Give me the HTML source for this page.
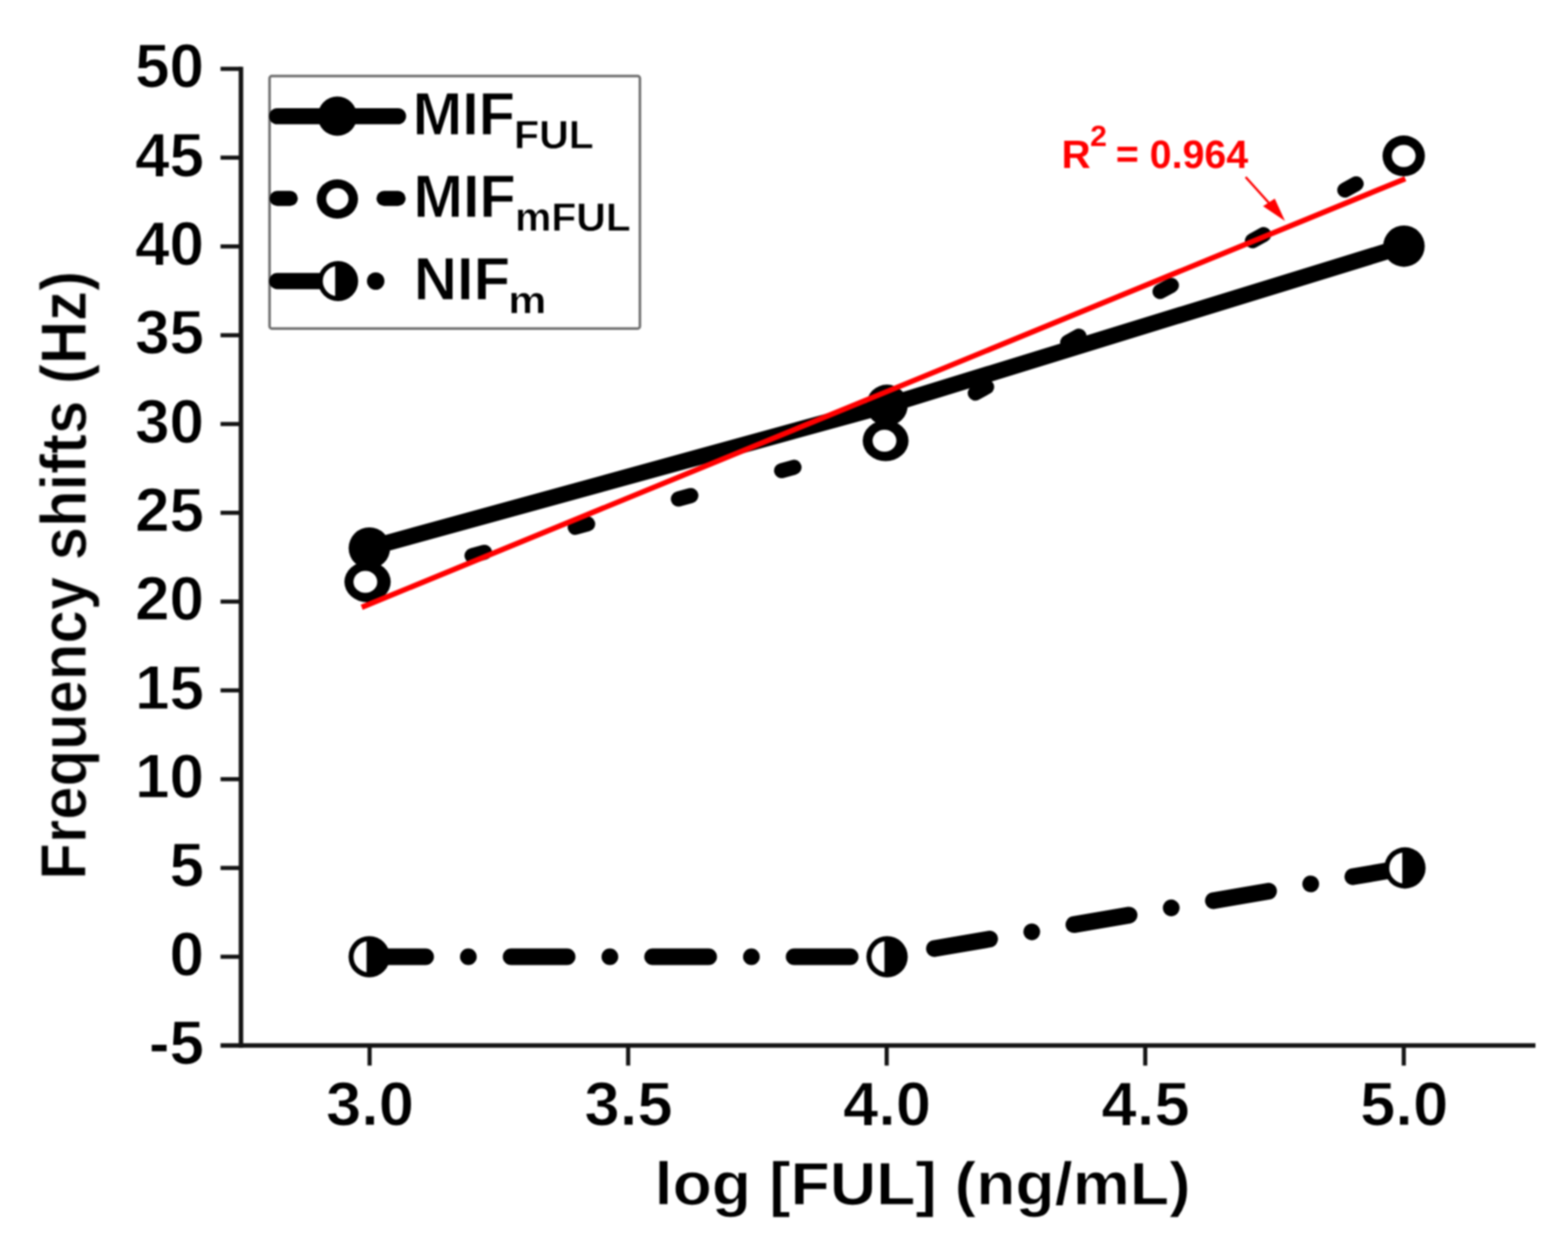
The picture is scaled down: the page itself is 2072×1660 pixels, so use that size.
<!DOCTYPE html>
<html lang="en">
<head>
<meta charset="utf-8">
<title>Frequency shifts vs log [FUL]</title>
<style>
html,body{margin:0;padding:0;background:#fff;}
body{width:2072px;height:1660px;overflow:hidden;font-family:"Liberation Sans", sans-serif;}
svg{display:block;}
svg text{stroke:#fff;stroke-width:0.013em;paint-order:fill stroke;stroke-linejoin:round;}
svg #r2 text{stroke:none;}
</style>
</head>
<body>
<svg role="img" aria-label="Frequency shifts versus log FUL concentration" width="2072" height="1660" viewBox="0 0 2072 1660" font-family='"Liberation Sans", sans-serif' font-weight="bold">
<rect width="2072" height="1660" fill="#fff"/>
<defs><filter id="soft" x="0" y="0" width="2072" height="1660" filterUnits="userSpaceOnUse" color-interpolation-filters="sRGB"><feGaussianBlur stdDeviation="1.05"/></filter></defs>
<g id="chart" filter="url(#soft)">
<g id="axes" stroke="#141414" fill="none" stroke-linecap="butt">
<line x1="318.4" y1="88.25" x2="318.4" y2="1384.85" stroke-width="6.0"/>
<line x1="291.40" y1="1381.85" x2="2029" y2="1381.85" stroke-width="6.0"/>
<line x1="291.40" y1="1264.50" x2="318.40" y2="1264.50" stroke-width="5.5"/>
<line x1="291.40" y1="1147.15" x2="318.40" y2="1147.15" stroke-width="5.5"/>
<line x1="291.40" y1="1029.80" x2="318.40" y2="1029.80" stroke-width="5.5"/>
<line x1="291.40" y1="912.45" x2="318.40" y2="912.45" stroke-width="5.5"/>
<line x1="291.40" y1="795.10" x2="318.40" y2="795.10" stroke-width="5.5"/>
<line x1="291.40" y1="677.75" x2="318.40" y2="677.75" stroke-width="5.5"/>
<line x1="291.40" y1="560.40" x2="318.40" y2="560.40" stroke-width="5.5"/>
<line x1="291.40" y1="443.05" x2="318.40" y2="443.05" stroke-width="5.5"/>
<line x1="291.40" y1="325.70" x2="318.40" y2="325.70" stroke-width="5.5"/>
<line x1="291.40" y1="208.35" x2="318.40" y2="208.35" stroke-width="5.5"/>
<line x1="291.40" y1="91.00" x2="318.40" y2="91.00" stroke-width="5.5"/>
<line x1="488.40" y1="1381.85" x2="488.40" y2="1408.35" stroke-width="5.5"/>
<line x1="830.05" y1="1381.85" x2="830.05" y2="1408.35" stroke-width="5.5"/>
<line x1="1171.70" y1="1381.85" x2="1171.70" y2="1408.35" stroke-width="5.5"/>
<line x1="1513.35" y1="1381.85" x2="1513.35" y2="1408.35" stroke-width="5.5"/>
<line x1="1855.00" y1="1381.85" x2="1855.00" y2="1408.35" stroke-width="5.5"/>
</g>
<g id="ticklabels" fill="#000">
<text transform="translate(269.6 1406.05) scale(1.012 1)" font-size="81.0" text-anchor="end">-5</text>
<text transform="translate(269.6 1288.70) scale(1.012 1)" font-size="81.0" text-anchor="end">0</text>
<text transform="translate(269.6 1171.35) scale(1.012 1)" font-size="81.0" text-anchor="end">5</text>
<text transform="translate(269.6 1054.00) scale(1.012 1)" font-size="81.0" text-anchor="end">10</text>
<text transform="translate(269.6 936.65) scale(1.012 1)" font-size="81.0" text-anchor="end">15</text>
<text transform="translate(269.6 819.30) scale(1.012 1)" font-size="81.0" text-anchor="end">20</text>
<text transform="translate(269.6 701.95) scale(1.012 1)" font-size="81.0" text-anchor="end">25</text>
<text transform="translate(269.6 584.60) scale(1.012 1)" font-size="81.0" text-anchor="end">30</text>
<text transform="translate(269.6 467.25) scale(1.012 1)" font-size="81.0" text-anchor="end">35</text>
<text transform="translate(269.6 349.90) scale(1.012 1)" font-size="81.0" text-anchor="end">40</text>
<text transform="translate(269.6 232.55) scale(1.012 1)" font-size="81.0" text-anchor="end">45</text>
<text transform="translate(269.6 115.20) scale(1.012 1)" font-size="81.0" text-anchor="end">50</text>
<text transform="translate(488.90 1486.8) scale(1.035 1)" font-size="81.0" text-anchor="middle">3.0</text>
<text transform="translate(830.55 1486.8) scale(1.035 1)" font-size="81.0" text-anchor="middle">3.5</text>
<text transform="translate(1172.20 1486.8) scale(1.035 1)" font-size="81.0" text-anchor="middle">4.0</text>
<text transform="translate(1513.85 1486.8) scale(1.035 1)" font-size="81.0" text-anchor="middle">4.5</text>
<text transform="translate(1855.50 1486.8) scale(1.035 1)" font-size="81.0" text-anchor="middle">5.0</text>
</g>
<g id="titles" fill="#000">
<text transform="translate(865.05 1591.60) scale(1.0694 1)" font-size="79.50" fill="#000" >log [FUL] (ng/mL)</text>
<text transform="translate(113.5 1162.64) rotate(-90) scale(0.9255 1)" font-size="85.50">Frequency shifts (Hz)</text>
</g>
<g id="series" fill="none" stroke="#000" stroke-linecap="round" stroke-linejoin="round">
<line x1="488.40" y1="771.63" x2="1171.70" y2="583.87" stroke-width="20" stroke-dasharray="17 124.4" stroke-dashoffset="1"/>
<line x1="1171.70" y1="583.87" x2="1855.00" y2="208.35" stroke-width="20" stroke-dasharray="17 122.3" stroke-dashoffset="5.7"/>
<polyline points="488.10,724.00 1172.10,535.70 1855.20,325.30" stroke-width="21.3"/>
<line x1="488.40" y1="1264.50" x2="1171.70" y2="1264.50" stroke-width="22.1" stroke-dasharray="74 56.5 0.01 56.5"/>
<line x1="1171.70" y1="1264.50" x2="1855.00" y2="1147.15" stroke-width="22.1" stroke-dasharray="74 56.5 0.01 56.5" stroke-dashoffset="-64"/>
</g>
<g id="symbols">
<ellipse cx="485.70" cy="769.00" rx="30.6" ry="27.0" fill="#000"/><ellipse cx="482.80" cy="769.00" rx="15.7" ry="14.6" fill="#fff"/>
<ellipse cx="1170.30" cy="582.50" rx="30.3" ry="27.0" fill="#000"/><ellipse cx="1168.80" cy="582.50" rx="15.7" ry="14.6" fill="#fff"/>
<ellipse cx="1854.90" cy="206.10" rx="28.0" ry="27.0" fill="#000"/><ellipse cx="1854.90" cy="206.10" rx="15.7" ry="14.6" fill="#fff"/>
<circle cx="488.10" cy="724.40" r="27.4" fill="#000"/>
<circle cx="1172.10" cy="535.70" r="27.4" fill="#000"/>
<circle cx="1855.20" cy="325.30" r="27.4" fill="#000"/>
<circle cx="487.90" cy="1264.50" r="27.3" fill="#000"/><path d="M484.40 1244.10 A20.70 20.70 0 0 0 484.40 1284.90 Z" fill="#fff"/>
<circle cx="1172.20" cy="1264.50" r="27.3" fill="#000"/><path d="M1168.70 1244.10 A20.70 20.70 0 0 0 1168.70 1284.90 Z" fill="#fff"/>
<circle cx="1856.50" cy="1147.15" r="27.3" fill="#000"/><path d="M1853.00 1126.75 A20.70 20.70 0 0 0 1853.00 1167.55 Z" fill="#fff"/>
</g>
<line x1="478" y1="802.6" x2="1857" y2="236.2" stroke="#ff0000" stroke-width="7.1"/>
<g id="r2" fill="#ff0000">
<text transform="translate(1402.70 222.00) scale(1.0246 1)" font-size="52.00" fill="#ff0000" >R</text>
<text transform="translate(1440.40 193.40) scale(1.0127 1)" font-size="39.50" fill="#ff0000" >2</text>
<text transform="translate(1474.59 222.00) scale(0.9990 1)" font-size="52.00" fill="#ff0000" >= 0.964</text>
<line x1="1646" y1="234" x2="1682" y2="274" stroke="#ff0000" stroke-width="3"/>
<path d="M1698 292 L1669 272.5 L1684.5 262.5 Z"/>
</g>
<g id="legend">
<rect x="356.2" y="100.5" width="489.40" height="333.80" rx="3" fill="none" stroke="#707070" stroke-width="3.4"/>
<g stroke="#000" stroke-linecap="round" fill="none" stroke-width="21.3">
<line x1="366.2" y1="153.6" x2="526" y2="153.6"/>
<line x1="366.2" y1="262.2" x2="383.5" y2="262.2" stroke-width="20"/>
<line x1="507.5" y1="262.2" x2="526" y2="262.2" stroke-width="20"/>
<line x1="366.2" y1="371.5" x2="445.8" y2="371.5"/>
<line x1="496.4" y1="371.5" x2="496.5" y2="371.5" stroke-width="23"/>
</g>
<circle cx="445.80" cy="153.60" r="26" fill="#000"/>
<ellipse cx="445.80" cy="263.00" rx="27.3" ry="26.1" fill="#000"/><ellipse cx="445.80" cy="263.00" rx="14.7" ry="14.2" fill="#fff"/>
<circle cx="446.80" cy="371.50" r="26.5" fill="#000"/><path d="M442.90 351.68 A20.20 20.20 0 0 0 442.90 391.32 Z" fill="#fff"/>
<g fill="#000">
<text transform="translate(545.19 177.60) scale(0.9928 1)" font-size="79.27" fill="#000" >MIF</text>
<text transform="translate(679.34 196.40) scale(1.0380 1)" font-size="52.22" fill="#000" >FUL</text>
<text transform="translate(546.19 286.60) scale(0.9838 1)" font-size="80.00" fill="#000" >MIF</text>
<text transform="translate(680.49 304.90) scale(1.0441 1)" font-size="51.78" fill="#000" >mFUL</text>
<text transform="translate(546.66 395.90) scale(0.9965 1)" font-size="79.42" fill="#000" >NIF</text>
<text transform="translate(671.63 414.20) scale(1.1310 1)" font-size="49.86" fill="#000" >m</text>
</g>
</g>
</g>
</svg>
</body>
</html>
